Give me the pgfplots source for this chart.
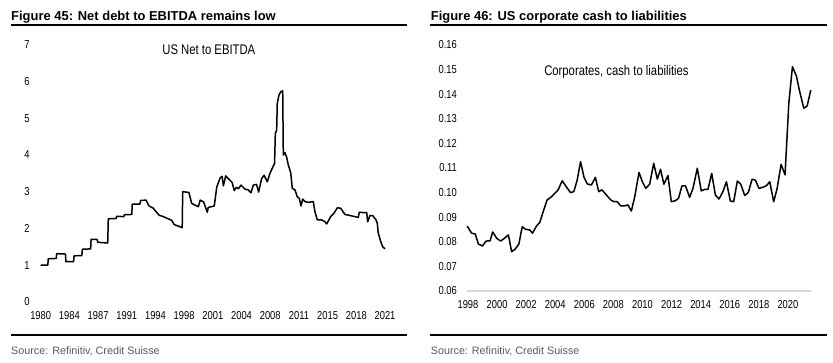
\documentclass[border=0pt]{standalone}
\usepackage{pgfplots}
\pgfplotsset{compat=1.18}
\usepackage{fontspec}
\setmainfont{Liberation Sans}
\newfontfamily\narrow[FakeStretch=0.81]{Liberation Sans}
\definecolor{axgray}{HTML}{D9D9D9}
\definecolor{srcgray}{HTML}{595959}

\pgfplotstableread{
x y
1980.00 1.00
1980.85 1.00
1980.90 1.17
1981.85 1.18
1981.90 1.31
1982.95 1.30
1983.00 1.09
1983.92 1.09
1983.97 1.25
1984.90 1.26
1984.96 1.43
1985.95 1.44
1986.00 1.70
1986.70 1.70
1986.80 1.62
1987.98 1.60
1988.05 2.26
1988.98 2.27
1989.05 2.33
1989.90 2.32
1989.96 2.37
1990.85 2.38
1990.90 2.66
1991.80 2.66
1991.90 2.76
1992.55 2.77
1992.90 2.61
1993.40 2.55
1993.65 2.48
1994.10 2.36
1994.60 2.32
1995.10 2.27
1995.60 2.22
1995.90 2.10
1996.30 2.07
1996.85 2.02
1996.91 3.00
1997.65 2.98
1997.98 2.68
1998.50 2.62
1998.77 2.59
1999.00 2.77
1999.40 2.72
1999.84 2.44
1999.95 2.57
2000.67 2.61
2000.96 3.12
2001.35 3.37
2001.60 3.42
2001.75 3.16
2002.03 3.43
2002.50 3.32
2002.80 3.25
2003.05 3.03
2003.30 3.12
2003.55 3.08
2003.85 3.18
2004.33 3.07
2004.70 3.05
2005.04 2.97
2005.32 3.18
2005.70 3.20
2005.95 2.99
2006.30 3.35
2006.60 3.45
2006.98 3.27
2007.30 3.50
2007.70 3.70
2007.85 3.77
2007.94 4.59
2008.10 4.68
2008.17 5.41
2008.38 5.64
2008.61 5.73
2008.82 5.75
2008.89 4.00
2009.09 4.06
2009.29 3.94
2009.48 3.73
2009.77 3.52
2009.96 3.09
2010.28 3.05
2010.55 2.86
2010.79 2.82
2011.00 2.61
2011.20 2.80
2011.47 2.73
2011.87 2.71
2012.46 2.73
2012.66 2.45
2012.94 2.23
2013.46 2.23
2013.85 2.18
2014.06 2.12
2014.53 2.32
2014.92 2.41
2015.32 2.56
2015.72 2.55
2016.23 2.38
2016.83 2.35
2017.42 2.32
2017.82 2.30
2017.94 2.44
2018.41 2.43
2018.82 2.43
2018.94 2.18
2019.21 2.35
2019.53 2.35
2019.93 2.23
2020.08 2.14
2020.20 1.87
2020.49 1.64
2020.72 1.50
2021.00 1.44
}\netdebt

\pgfplotstableread{
x y
1997.95 0.0864
1998.25 0.0835
1998.50 0.0832
1998.72 0.0791
1999.00 0.0783
1999.24 0.0803
1999.52 0.0804
1999.70 0.0840
1999.98 0.0814
2000.25 0.0803
2000.50 0.0814
2000.78 0.0828
2001.00 0.0760
2001.23 0.0769
2001.50 0.0791
2001.73 0.0861
2001.96 0.0851
2002.25 0.0848
2002.44 0.0835
2002.71 0.0864
2002.94 0.0879
2003.17 0.0922
2003.44 0.0970
2003.74 0.0983
2003.97 0.0997
2004.20 0.1011
2004.48 0.1048
2004.78 0.1022
2005.05 0.1000
2005.28 0.1004
2005.51 0.1051
2005.74 0.1126
2005.98 0.1062
2006.21 0.1035
2006.49 0.1031
2006.76 0.1062
2006.99 0.1004
2007.22 0.1011
2007.52 0.0990
2007.82 0.0970
2008.04 0.0963
2008.27 0.0963
2008.50 0.0946
2008.77 0.0946
2009.00 0.0950
2009.23 0.0925
2009.46 0.0981
2009.76 0.1082
2009.99 0.1044
2010.22 0.1017
2010.49 0.1034
2010.77 0.1119
2011.02 0.1055
2011.24 0.1095
2011.47 0.1034
2011.75 0.1069
2011.98 0.0963
2012.26 0.0967
2012.48 0.0977
2012.71 0.1027
2012.96 0.1027
2013.24 0.0981
2013.47 0.1017
2013.77 0.1099
2014.04 0.1007
2014.27 0.1013
2014.50 0.1013
2014.76 0.1078
2015.01 0.0990
2015.26 0.0974
2015.53 0.1004
2015.77 0.1044
2016.04 0.0966
2016.27 0.0963
2016.52 0.1047
2016.75 0.1035
2017.03 0.0988
2017.28 0.1001
2017.53 0.1054
2017.76 0.1051
2018.01 0.1017
2018.29 0.1022
2018.52 0.1028
2018.75 0.1044
2019.02 0.0963
2019.25 0.1015
2019.53 0.1115
2019.80 0.1072
2020.06 0.1363
2020.31 0.1512
2020.58 0.1474
2020.81 0.1410
2021.09 0.1343
2021.32 0.1352
2021.57 0.1417
}\cashliab

\begin{document}
\begin{tikzpicture}[x=1bp,y=1bp]
\useasboundingbox (0,0) rectangle (833,362);

% titles and rules
\node[anchor=base west, inner sep=0pt, font=\fontsize{13}{15}\selectfont\bfseries] at (11,341.4) {Figure 45: Net debt to EBITDA remains low};
\node[anchor=base west, inner sep=0pt, font=\fontsize{13}{15}\selectfont\bfseries] at (430.7,341.4) {Figure 46: US corporate cash to liabilities};
\draw[line width=1.2bp] (11,337) -- (407,337);
\draw[line width=1.2bp] (430,337) -- (827,337);
\draw[line width=1.2bp] (11,27) -- (407,27);
\draw[line width=1.2bp] (430,27) -- (827,27);
\node[anchor=base west, inner sep=0pt, font=\fontsize{10.8}{12}\selectfont, text=srcgray] at (11,7.3) {Source: Refinitiv, Credit Suisse};
\node[anchor=base west, inner sep=0pt, font=\fontsize{10.8}{12}\selectfont, text=srcgray] at (430.7,7.3) {Source: Refinitiv, Credit Suisse};

\pgfplotsset{
  csstyle/.style={
    scale only axis, anchor=south west, clip=false,
    axis line style={draw=none},
    major tick length=0pt,
    xtick style={draw=none}, ytick style={draw=none},
    xticklabel style={font=\narrow\fontsize{11.6}{13}\selectfont, inner sep=0pt, anchor=north},
    yticklabel style={font=\narrow\fontsize{11.6}{13}\selectfont, inner sep=0pt, anchor=east},
  }
}

% left chart
\begin{axis}[csstyle,
  at={(40.7bp,60.3bp)}, width=344.3bp, height=256.7bp,
  xmin=1980, xmax=2021, ymin=0, ymax=7,
  xtick={1980,1983.4167,1986.8333,1990.25,1993.6667,1997.0833,2000.5,2003.9167,2007.3333,2010.75,2014.1667,2017.5833,2021},
  xticklabels={1980,1984,1987,1991,1994,1998,2001,2004,2008,2011,2015,2018,2021},
  ytick={0,1,2,3,4,5,6,7},
  yticklabels={0,1,2,3,4,5,6,7},
  xticklabel style={yshift=-10bp},
  yticklabel style={xshift=-11bp},
]
\addplot[black, line width=1.5bp, line join=round] table[x=x,y=y] {\netdebt};
\node[font=\narrow\fontsize{14}{16}\selectfont] at (axis cs:2000.02,6.87) {US Net to EBITDA};
\end{axis}

% right chart
\begin{axis}[csstyle,
  at={(466.5bp,71bp)}, width=344.7bp, height=246bp,
  xmin=1997.9, xmax=2021.6, ymin=0.06, ymax=0.16,
  xtick={1998,2000,2002,2004,2006,2008,2010,2012,2014,2016,2018,2020},
  xticklabels={1998,2000,2002,2004,2006,2008,2010,2012,2014,2016,2018,2020},
  ytick={0.06,0.07,0.08,0.09,0.10,0.11,0.12,0.13,0.14,0.15,0.16},
  yticklabels={0.06,0.07,0.08,0.09,0.10,0.11,0.12,0.13,0.14,0.15,0.16},
  xticklabel style={yshift=-8.8bp},
  yticklabel style={xshift=-9.5bp},
]
\draw[axgray, line width=1.2bp] (rel axis cs:0,0) -- (rel axis cs:1,0);
\addplot[black, line width=1.5bp, line join=round] table[x=x,y=y] {\cashliab};
\node[font=\narrow\fontsize{14}{16}\selectfont] at (axis cs:2008.21,0.1491) {Corporates, cash to liabilities};
\end{axis}
\end{tikzpicture}
\end{document}
